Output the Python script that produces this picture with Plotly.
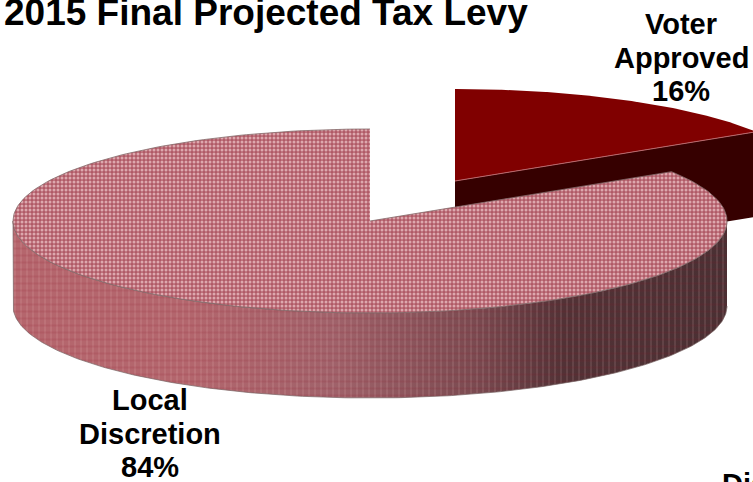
import numpy as np
import plotly.graph_objects as go

# Tax levy shares, in percent, clockwise from twelve o'clock
categories = ["Voter Approved", "Local Discretion"]
shares = [16, 84]

TITLE = "2015 Final Projected Tax Levy"
CLIPPED_LABEL = "Dis"

# Oblique projection of the pie disc on the page, in pixels
WIDTH, HEIGHT = 753, 482
CENTER = (370, 221)
RADIUS_X = 357
RADIUS_Y = 92
DEPTH = 85
EXPLODE = (85, -40)

FONT_FAMILY = "Liberation Sans, Arial, sans-serif"
LABEL_SIZE = 29
LINE_STEP = 33.5


def rim(start_deg, stop_deg, origin=CENTER, drop=0, count=240):
    """Points along the elliptical rim; angles run clockwise from the top."""
    t = np.radians(np.linspace(start_deg, stop_deg, count))
    x = origin[0] + RADIUS_X * np.sin(t)
    y = origin[1] - RADIUS_Y * np.cos(t) + drop
    return x, y


voter_sweep = shares[0] / sum(shares) * 360
voter_origin = (CENTER[0] + EXPLODE[0], CENTER[1] + EXPLODE[1])

fig = go.Figure()


def add_shape(x, y, **style):
    fig.add_trace(go.Scatter(x=list(x), y=list(y), mode="lines", fill="toself",
                             hoverinfo="skip", showlegend=False, **style))


def add_text(text, px, py, size, anchor="center"):
    # Paper coordinates keep text visible even when it runs past the frame
    fig.add_annotation(x=px / WIDTH, y=1 - py / HEIGHT, xref="paper", yref="paper",
                       showarrow=False, xanchor=anchor, yanchor="middle", align="center",
                       text=f"<b>{text}</b>",
                       font=dict(family=FONT_FAMILY, size=size, color="black"))


# Voter Approved: cut wall first, then the top face
ex, ey = rim(voter_sweep, voter_sweep, voter_origin, count=1)
add_shape([voter_origin[0], ex[0], ex[0], voter_origin[0]],
          [voter_origin[1], ey[0], ey[0] + DEPTH, voter_origin[1] + DEPTH],
          fillcolor="#360000", line=dict(width=0))
vx, vy = rim(0, voter_sweep, voter_origin)
add_shape(np.r_[voter_origin[0], vx], np.r_[voter_origin[1], vy],
          fillcolor="#800000", line=dict(width=0))
add_shape([voter_origin[0], ex[0]], [voter_origin[1], ey[0]],
          fillcolor="rgba(0,0,0,0)", line=dict(width=1, color="#b8686c"))

# Local Discretion: outer wall visible from three o'clock round to nine o'clock
tx, ty = rim(90, 270)
bx, by = rim(90, 270, drop=DEPTH)
wall_x = np.r_[tx, bx[::-1]]
wall_y = np.r_[ty, by[::-1]]
add_shape(wall_x, wall_y, line=dict(width=0),
          fillgradient=dict(type="horizontal",
                            colorscale=[[0, "#b5666d"], [0.25, "#b3666d"],
                                        [0.45, "#a0626a"], [0.65, "#7a4a50"],
                                        [0.77, "#523236"], [1, "#4a3033"]]))
add_shape(wall_x, wall_y, line=dict(width=0), fillcolor="rgba(0,0,0,0)",
          fillpattern=dict(shape="|", size=6, solidity=0.18,
                           fgcolor="#f0c8c8", fgopacity=0.22,
                           bgcolor="rgba(0,0,0,0)"))
add_shape(wall_x, wall_y, line=dict(width=1, color="rgba(120,100,100,0.7)"),
          fillcolor="rgba(0,0,0,0)",
          fillpattern=dict(shape="-", size=7, solidity=0.3,
                           fgcolor="#8c0a1e", fgopacity=0.12,
                           bgcolor="rgba(0,0,0,0)"))

# Local Discretion: top face
lx, ly = rim(voter_sweep, 360)
add_shape(np.r_[CENTER[0], lx], np.r_[CENTER[1], ly],
          line=dict(width=1, color="rgba(130,105,105,0.8)"),
          fillcolor="#b5606b",
          fillpattern=dict(shape=".", size=4, solidity=0.45,
                           fgcolor="#e8bcc0", fgopacity=0.8, bgcolor="#b05a66"))

# Slice labels, one annotation per line to hold the tight line spacing
label_spots = [(681, 24), (150, 400)]
for name, share, (px, py) in zip(categories, shares, label_spots):
    for row, line in enumerate(name.split(" ") + [f"{share}%"]):
        add_text(line, px, py + row * LINE_STEP, LABEL_SIZE)

# Further label running off the lower right corner of the frame
add_text(CLIPPED_LABEL, 720, 484, LABEL_SIZE, anchor="left")

add_text(TITLE, 2, 12, 37, anchor="left")

fig.update_layout(width=WIDTH, height=HEIGHT, margin=dict(l=0, r=0, t=0, b=0),
                  paper_bgcolor="white", plot_bgcolor="white",
                  xaxis=dict(range=[0, WIDTH], visible=False, fixedrange=True),
                  yaxis=dict(range=[HEIGHT, 0], visible=False, fixedrange=True))

fig.write_html("out.html")
